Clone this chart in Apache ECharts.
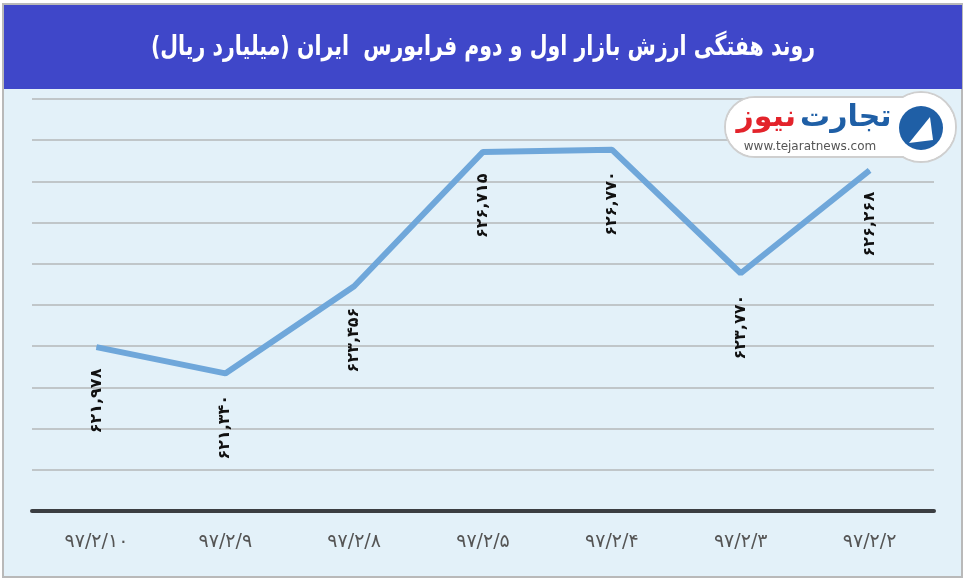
<!DOCTYPE html>
<html><head><meta charset="utf-8">
<script src="https://cdn.jsdelivr.net/npm/echarts@6/dist/echarts.min.js"></script>
<style>html,body{margin:0;padding:0;background:#fff}#c{width:966px;height:583px}</style>
</head><body><div id="c"></div>
<script>
const titleText = 'روند هفتگی ارزش بازار اول و دوم فرابورس  ایران (میلیارد ریال)';
const categories = ['۹۷/۲/۱۰', '۹۷/۲/۹', '۹۷/۲/۸', '۹۷/۲/۵', '۹۷/۲/۴', '۹۷/۲/۳', '۹۷/۲/۲'];
const values = [621978, 621340, 623456, 626715, 626770, 623770, 626268];
const yMin = 618000, yMax = 628000, yStep = 1000;
const logoName1 = 'تجارت';
const logoName2 = 'نیوز';
const logoUrl = 'www.tejaratnews.com';

const faDigits = '۰۱۲۳۴۵۶۷۸۹';
function toFa(n) {
  const s = String(n).replace(/\B(?=(\d{3})+(?!\d))/g, ',');
  return s.replace(/\d/g, d => faDigits[+d]);
}

const chart = echarts.init(document.getElementById('c'), null, {renderer: 'canvas'});
const FONT = '"DejaVu Sans", sans-serif';
chart.setOption({
  animation: false,
  grid: {left: 32, right: 32, top: 99, bottom: 72, containLabel: false},
  xAxis: {
    type: 'category', data: categories, boundaryGap: true,
    axisLine: {lineStyle: {color: '#3b3e42', width: 4}},
    axisTick: {show: false},
    axisLabel: {fontSize: 19, color: '#555', margin: 22, fontFamily: FONT}
  },
  yAxis: {
    type: 'value', min: yMin, max: yMax, interval: yStep,
    axisLabel: {show: false}, axisLine: {show: false}, axisTick: {show: false},
    splitLine: {lineStyle: {color: '#c0c6c9', width: 2}}
  },
  series: [{
    type: 'line', data: values, symbol: 'circle', symbolSize: 1, showSymbol: true, z: 3,
    itemStyle: {color: '#6fa7da'},
    lineStyle: {color: '#6fa7da', width: 6},
    labelLayout: {hideOverlap: false},
    label: {
      show: true, position: 'bottom', distance: 21, rotate: 90,
      align: 'right', verticalAlign: 'middle',
      formatter: p => toFa(p.value),
      fontSize: 16, fontWeight: 'bold', color: '#111', fontFamily: FONT
    }
  }],
  graphic: [
    {type: 'rect', z: -10, shape: {x: 3, y: 4, width: 959, height: 573}, style: {fill: '#e3f1f9', stroke: '#b9b9b9', lineWidth: 2}},
    {type: 'rect', z: -9, shape: {x: 4, y: 5, width: 958, height: 84}, style: {fill: '#3f47c9'}},
    {type: 'text', z: 20, x: 483, y: 48, scaleX: 0.76, style: {text: titleText + '\u200F', fill: '#fff', font: 'bold 27px ' + FONT, textAlign: 'center', textVerticalAlign: 'middle'}},
    // logo
    {type: 'rect', z: 20, shape: {x: 725, y: 97, width: 210, height: 60, r: 30}, style: {fill: '#fff', stroke: '#cfcfcf', lineWidth: 2}},
    {type: 'circle', z: 20, shape: {cx: 921, cy: 127, r: 35}, style: {fill: '#fff', stroke: '#cfcfcf', lineWidth: 2}},
    {type: 'rect', z: 21, shape: {x: 726, y: 98, width: 208, height: 58, r: 29}, style: {fill: '#fff'}},
    {type: 'circle', z: 21, shape: {cx: 921, cy: 127, r: 34}, style: {fill: '#fff'}},
    {type: 'circle', z: 22, shape: {cx: 921, cy: 128, r: 22}, style: {fill: '#1f5fa6'}},
    {type: 'polygon', z: 23, shape: {points: [[909, 143], [930, 117], [933, 140]]}, style: {fill: '#fff'}},
    {type: 'text', z: 23, x: 800, y: 118, style: {text: logoName1, fill: '#1f5fa6', font: 'bold 30px ' + FONT, textAlign: 'left', textVerticalAlign: 'middle'}},
    {type: 'text', z: 23, x: 796, y: 118, style: {text: logoName2, fill: '#e3232b', font: 'bold 30px ' + FONT, textAlign: 'right', textVerticalAlign: 'middle'}},
    {type: 'text', z: 23, x: 810, y: 147, style: {text: logoUrl, fill: '#555', font: '12px ' + FONT, textAlign: 'center', textVerticalAlign: 'middle'}}
  ]
});
</script></body></html>
